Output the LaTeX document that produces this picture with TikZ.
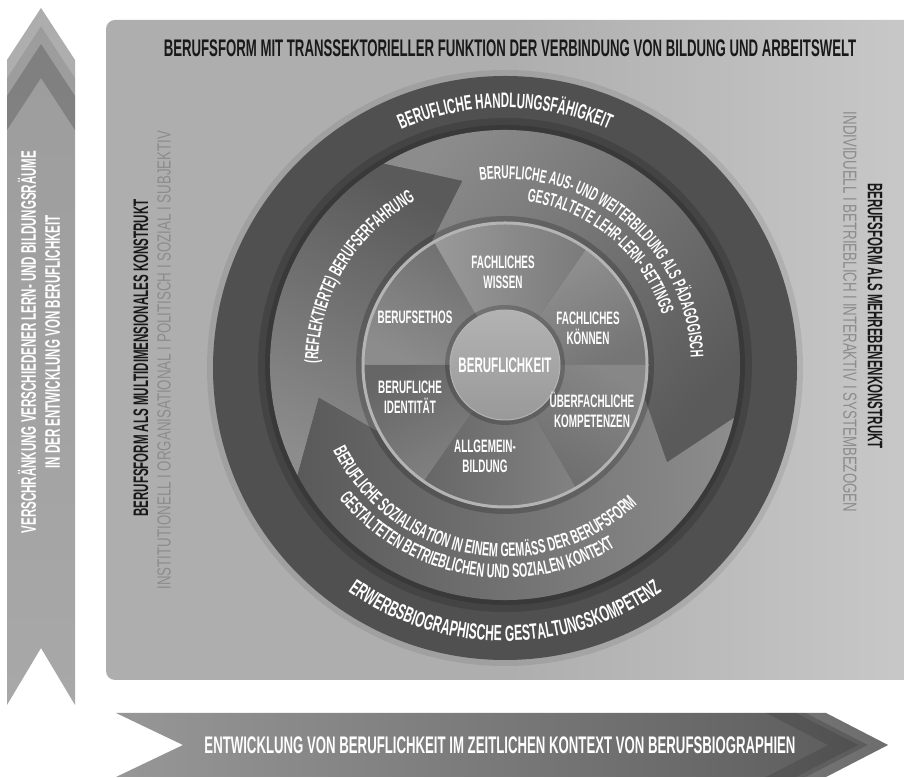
\documentclass[tikz,border=0pt]{standalone}
\usepackage{fontspec}
\newfontfamily\bebas[FakeStretch=0.55]{Liberation Sans}
\newfontfamily\thinfont[FakeStretch=0.7]{Liberation Sans}
\usetikzlibrary{calc,decorations.text}

\definecolor{panelgray}{HTML}{AEAEAE}
\definecolor{panellight}{HTML}{C8C8C8}
\definecolor{ringgray}{HTML}{505050}
\definecolor{thingray}{HTML}{8C8C8C}
\definecolor{rimgray}{HTML}{B4B4B4}
\definecolor{segdark}{HTML}{5A5A5A}
\definecolor{seglight}{HTML}{8C8C8C}
\definecolor{arrowtop}{HTML}{9C9C9C}
\definecolor{arrowmid}{HTML}{6E6E6E}
\definecolor{arrowbot}{HTML}{A8A8A8}

\newcommand\ringfont[1]{\color{white}\bebas\bfseries\fontsize{#1}{#1}\selectfont}

\tikzset{
  capstext/.style={font=\bebas\bfseries\fontsize{#1}{#1}\selectfont},
  thintext/.style={font=\thinfont\fontsize{#1}{#1}\selectfont, text=thingray},
  wheellabel/.style={capstext=18, text=white, align=center},
  arctext/.style={decorate, decoration={text along path, text align=center, text={#1}}},
  sector/.style args={#1/#2}{top color=black!#2, bottom color=black!#1},
}

\begin{document}
\begin{tikzpicture}[x=1pt,y=1pt]
\useasboundingbox (0,0) rectangle (904,778);
\coordinate (M) at (505,413);
\coordinate (D) at (505,410);

% background panel
\shade[rounded corners=9pt, left color=panelgray, right color=panellight, middle color=panelgray] (106,98) rectangle (912,758);

% vertical arrow on the left
\shade[top color=arrowtop, middle color=arrowmid, bottom color=arrowbot]
  (41,770) -- (75,718) -- (75,73) -- (41,130) -- (7,73) -- (7,718) -- cycle;
\fill[white, opacity=0.18] (41,770) -- (75,718) -- (75,700) -- (41,752) -- (7,700) -- (7,718) -- cycle;
\fill[black, opacity=0.18] (41,734) -- (75,682) -- (75,648) -- (41,700) -- (7,648) -- (7,682) -- cycle;
\node[capstext=21, text=white, rotate=90, align=center] (raeume) at (39,436)
  {VERSCHRÄNKUNG VERSCHIEDENER LERN- UND BILDUNGSRÄUME\\[3pt] IN DER ENTWICKLUNG VON BERUFLICHKEIT};

% horizontal arrow at the bottom
\shade[left color=arrowbot!90!black, middle color=arrowmid, right color=segdark]
  (116,65) -- (826,65) -- (888,33) -- (826,1) -- (116,1) -- (183,33) -- cycle;
\fill[black, opacity=0.12] (858,33) -- (796,65) -- (766,65) -- (828,33) -- (766,1) -- (796,1) -- cycle;
\fill[white, opacity=0.12] (888,33) -- (826,65) -- (806,65) -- (868,33) -- (806,1) -- (826,1) -- cycle;
\node[capstext=24, text=white] (biografie) at (500,33)
  {ENTWICKLUNG VON BERUFLICHKEIT IM ZEITLICHEN KONTEXT VON BERUFSBIOGRAPHIEN};

% headings on the panel
\node[capstext=24, text=black!90] (title) at (510,730)
  {BERUFSFORM MIT TRANSSEKTORIELLER FUNKTION DER VERBINDUNG VON BILDUNG UND ARBEITSWELT};
\node[capstext=21, text=black!90, rotate=90] (multi) at (141,420) {BERUFSFORM ALS MULTIDIMENSIONALES KONSTRUKT};
\node[thintext=19, rotate=90] (multisub) at (164,418) {INSTITUTIONELL I ORGANISATIONAL I POLITISCH I SOZIAL I SUBJEKTIV};
\node[capstext=21, text=black!90, rotate=-90] (ebenen) at (875,462) {BERUFSFORM ALS MEHREBENENKONSTRUKT};
\node[thintext=19, rotate=-90] (ebenensub) at (850,466) {INDIVIDUELL I BETRIEBLICH I INTERAKTIV I SYSTEMBEZOGEN};

% outer ring
\fill[black, opacity=0.08] (D) circle[radius=298];
\fill[ringgray] (D) circle[radius=292];
\draw[black, opacity=0.15, line width=14] (M) circle[radius=240];
\draw[black, opacity=0.15, line width=6] (M) circle[radius=237];

% three chevron segments of the middle ring
\shade[top color=segdark, bottom color=seglight, shading angle=-26]
  ($(M)+(208:235)$) arc[start angle=208, end angle=121, radius=235] -- ($(M)+(103:189)$)
  -- ($(M)+(121:143)$) arc[start angle=121, end angle=208, radius=143] -- ($(M)+(190:189)$) -- cycle;
\shade[top color=segdark, bottom color=seglight, shading angle=-132]
  ($(M)+(121:235)$) arc[start angle=121, end angle=-13, radius=235] -- ($(M)+(-31:189)$)
  -- ($(M)+(-13:143)$) arc[start angle=-13, end angle=121, radius=143] -- ($(M)+(103:189)$) -- cycle;
\shade[top color=segdark, bottom color=seglight, shading angle=91.5]
  ($(M)+(-13:235)$) arc[start angle=-13, end angle=-152, radius=235] -- ($(M)+(-170:189)$)
  -- ($(M)+(-152:143)$) arc[start angle=-152, end angle=-13, radius=143] -- ($(M)+(-31:189)$) -- cycle;

% texts on the rings
\path[arctext={|\ringfont{21}|BERUFLICHE HANDLUNGSFÄHIGKEIT}]
  ($(D)+(160:260)$) arc[start angle=160, end angle=20, radius=260];
\path[arctext={|\ringfont{22}|ERWERBSBIOGRAPHISCHE GESTALTUNGSKOMPETENZ}]
  ($(D)+(190:273)$) arc[start angle=190, end angle=350, radius=273];
\path[arctext={|\ringfont{19}|(REFLEKTIERTE) BERUFSERFAHRUNG}]
  ($(M)+(225:187)$) arc[start angle=225, end angle=73, radius=187];
\path[arctext={|\ringfont{18.5}|BERUFLICHE AUS- UND WEITERBILDUNG ALS PÄDAGOGISCH}]
  ($(M)+(130:186)$) arc[start angle=130, end angle=-30, radius=186];
\path[arctext={|\ringfont{18.5}|GESTALTETE LEHR-LERN- SETTINGS}]
  ($(M)+(130:165)$) arc[start angle=130, end angle=-30, radius=165];
\path[arctext={|\ringfont{19.5}|BERUFLICHE SOZIALISATION IN EINEM GEMÄSS DER BERUFSFORM}]
  ($(M)+(180:192)$) arc[start angle=180, end angle=340, radius=192];
\path[arctext={|\ringfont{19.5}|GESTALTETEN BETRIEBLICHEN UND SOZIALEN KONTEXT}]
  ($(M)+(180:213)$) arc[start angle=180, end angle=340, radius=213];

% wheel of six sectors
\draw[black, opacity=0.2, line width=6] (M) circle[radius=146];
\shade[sector=45/57, shading angle=-30] (M) -- ($(M)+(120:143)$) arc[start angle=120, end angle=180, radius=143] -- cycle;
\shade[sector=40/52, shading angle=-92.5] (M) -- ($(M)+(55:143)$) arc[start angle=55, end angle=120, radius=143] -- cycle;
\shade[sector=42/54, shading angle=-152.5] (M) -- ($(M)+(0:143)$) arc[start angle=0, end angle=55, radius=143] -- cycle;
\shade[sector=47/58, shading angle=150] (M) -- ($(M)+(-60:143)$) arc[start angle=-60, end angle=0, radius=143] -- cycle;
\shade[sector=49/60, shading angle=87.5] (M) -- ($(M)+(-125:143)$) arc[start angle=-125, end angle=-60, radius=143] -- cycle;
\shade[sector=48/60, shading angle=27.5] (M) -- ($(M)+(180:143)$) arc[start angle=180, end angle=235, radius=143] -- cycle;
\draw[rimgray, line width=3] (M) circle[radius=142];

% core
\draw[black, opacity=0.2, line width=6] (M) circle[radius=57];
\shade[top color=black!30, bottom color=black!40] (M) circle[radius=55];
\draw[rimgray, line width=1] (M) circle[radius=55];
\node[capstext=21, text=white] (core) at (M) {BERUFLICHKEIT};

\node[wheellabel] (wissen) at (503,506) {FACHLICHES\\[2pt] WISSEN};
\node[wheellabel] (koennen) at (588,450) {FACHLICHES\\[2pt] KÖNNEN};
\node[wheellabel] (ethos) at (415,461) {BERUFSETHOS};
\node[wheellabel] (identitaet) at (410,381) {BERUFLICHE\\[2pt] IDENTITÄT};
\node[wheellabel] (kompetenz) at (592,368) {ÜBERFACHLICHE\\[2pt] KOMPETENZEN};
\node[wheellabel] (allgemein) at (485,322) {ALLGEMEIN-\\[2pt] BILDUNG};
\end{tikzpicture}
\end{document}
